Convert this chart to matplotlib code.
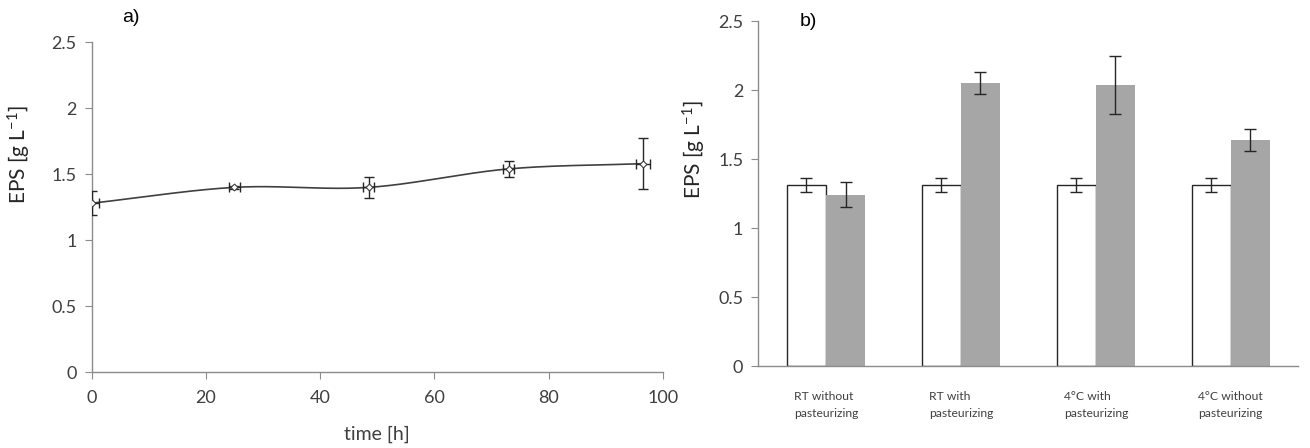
import numpy as np
import matplotlib
matplotlib.use("Agg")
import matplotlib.pyplot as plt

# ---- data ----
time_h = [0, 25, 48.5, 73, 96.5]
eps_time = [1.28, 1.40, 1.40, 1.54, 1.58]
eps_time_err = [0.09, 0.01, 0.08, 0.06, 0.195]
time_err = [1.2, 1.0, 1.0, 1.0, 1.2]

categories = ["RT without\npasteurizing", "RT with\npasteurizing",
              "4°C with\npasteurizing", "4°C without\npasteurizing"]
eps_before = [1.31, 1.31, 1.31, 1.31]
eps_before_err = [0.05, 0.05, 0.05, 0.05]
eps_after = [1.24, 2.05, 2.04, 1.64]
eps_after_err = [0.09, 0.08, 0.21, 0.08]

plt.rcParams['font.family'] = ['Lato', 'DejaVu Sans']
plt.rcParams['mathtext.fontset'] = 'custom'
plt.rcParams['mathtext.rm'] = 'Lato'
plt.rcParams['mathtext.it'] = 'Lato:italic'
plt.rcParams['mathtext.bf'] = 'Lato:bold'
axis_col = '#8c8c8c'
ink = '#262626'

W, H = 1310, 448
fig = plt.figure(figsize=(W / 100, H / 100), dpi=100)
ax1 = fig.add_axes([0.070, 0.1696, 0.436, 0.736])
ax2 = fig.add_axes([0.579, 0.183, 0.412, 0.770])


def catmull(x, y, n=40):
    x = np.asarray(x, float); y = np.asarray(y, float)
    P = np.column_stack([x, y])
    P = np.vstack([P[0] - (P[1] - P[0]), P, P[-1] + (P[-1] - P[-2])])
    out = []
    for i in range(1, len(P) - 2):
        p0, p1, p2, p3 = P[i - 1], P[i], P[i + 1], P[i + 2]
        t = np.linspace(0, 1, n)[:, None]
        seg = 0.5 * ((2 * p1) + (-p0 + p2) * t + (2 * p0 - 5 * p1 + 4 * p2 - p3) * t ** 2
                     + (-p0 + 3 * p1 - 3 * p2 + p3) * t ** 3)
        out.append(seg)
    out = np.vstack(out)
    return out[:, 0], out[:, 1]


ylabel = 'EPS [g L$^{\\mathregular{-1}}$]'

sx, sy = catmull(time_h, eps_time)
ax1.plot(sx, sy, color='#404040', lw=1.2, zorder=2)
ax1.errorbar(time_h, eps_time, yerr=eps_time_err, xerr=time_err, fmt='none',
             ecolor=ink, elinewidth=1.0, capsize=3.5, capthick=1.0, zorder=3)
ax1.plot(time_h, eps_time, linestyle='none', marker='D', markersize=3.5,
         markerfacecolor='white', markeredgecolor='#404040', markeredgewidth=0.8, zorder=4)

ax1.set_xlim(0, 100)
ax1.set_ylim(0, 2.5)
ax1.set_xticks([0, 20, 40, 60, 80, 100])
ax1.set_yticks([0, 0.5, 1, 1.5, 2, 2.5])
ax1.set_yticklabels(['0', '0.5', '1', '1.5', '2', '2.5'])
ax1.set_xlabel('time [h]', fontsize=14, color='#404040', labelpad=14)
ax1.set_ylabel(ylabel, fontsize=15, color='#262626')
ax1.yaxis.set_label_coords(-0.103, 0.658)
fig.text(122 / W, 1 - 18 / H, 'a)', fontsize=14, family='Liberation Sans', va='center', ha='left')

x = np.arange(len(categories))
w = 0.29
ax2.bar(x - w / 2, eps_before, width=w, color='white', edgecolor=ink, linewidth=1.0, zorder=2)
ax2.bar(x + w / 2, eps_after, width=w, color='#a6a6a6', edgecolor='none', zorder=2)
ax2.errorbar(x - w / 2, eps_before, yerr=eps_before_err, fmt='none', ecolor=ink,
             elinewidth=1.0, capsize=4, capthick=1.0, zorder=3)
ax2.errorbar(x + w / 2, eps_after, yerr=eps_after_err, fmt='none', ecolor=ink,
             elinewidth=1.0, capsize=4, capthick=1.0, zorder=3)
ax2.set_xlim(-0.5, 3.5)
ax2.set_ylim(0, 2.5)
ax2.set_yticks([0, 0.5, 1, 1.5, 2, 2.5])
ax2.set_yticklabels(['0', '0.5', '1', '1.5', '2', '2.5'])
ax2.set_xticks(x)
ax2.set_xticklabels(categories, fontsize=8.7, color='#404040', multialignment='left',
                    linespacing=1.7)
ax2.tick_params(axis='x', length=0, pad=18)
ax2.set_ylabel(ylabel, fontsize=15, color='#262626')
ax2.yaxis.set_label_coords(-0.094, 0.626)
fig.text(800 / W, 1 - 22 / H, 'b)', fontsize=14, family='Liberation Sans', va='center', ha='left')

for ax in (ax1, ax2):
    for s in ('top', 'right'):
        ax.spines[s].set_visible(False)
    for s in ('left', 'bottom'):
        ax.spines[s].set_color(axis_col)
        ax.spines[s].set_linewidth(1.0)
    ax.tick_params(axis='y', direction='out', length=5, color=axis_col, labelsize=13,
                   labelcolor='#404040', pad=6)
ax1.tick_params(axis='x', direction='out', length=5, color=axis_col, labelsize=13,
                labelcolor='#404040', pad=8)

fig.savefig('out.png', dpi=100)
